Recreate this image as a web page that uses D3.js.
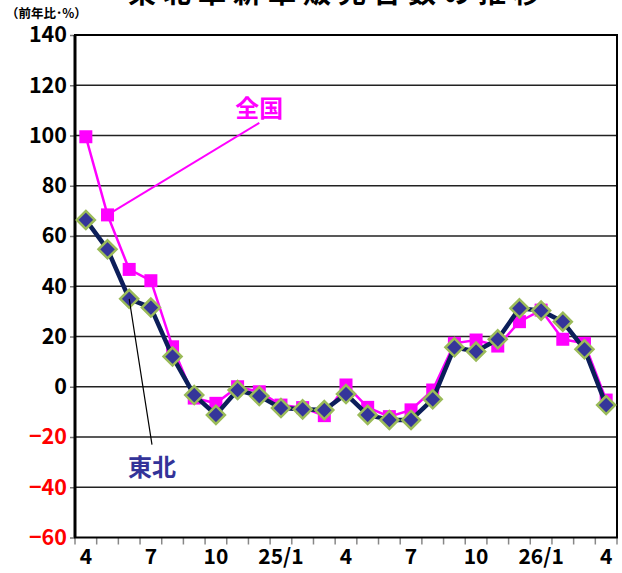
<!DOCTYPE html>
<html>
<head>
<meta charset="utf-8">
<script src="https://cdn.jsdelivr.net/npm/d3@7"></script>
<style>
  body { margin: 0; background: #fff; }
  svg { display: block; font-family: "Noto Sans CJK JP", "Noto Sans", sans-serif; }
</style>
</head>
<body>
<svg id="chart" width="622" height="573"></svg>
<script>
// months 24/4 .. 26/4, only every third one is labelled
const monthLabels = ['4', '', '', '7', '', '', '10', '', '', '25/1', '', '',
  '4', '', '', '7', '', '', '10', '', '', '26/1', '', '', '4'];

// 前年比 (%)
const zenkoku = [99.5, 68.4, 46.7, 42.2, 15.9, -4.5, -6.6, 0, -2, -7.3, -8.3, -11.5,
  0.7, -8.2, -11.9, -9.2, -1.3, 17.3, 18.6, 16.2, 25.9, 30.5, 18.9, 17.3, -5.3];
const tohoku = [66.4, 54.7, 35.0, 31.5, 12.0, -3.3, -11.2, -1.3, -3.7, -8.5, -9, -9.3,
  -2.9, -11.2, -13.2, -13.2, -5, 15.7, 14, 18.9, 31.2, 30.3, 25.9, 14.9, -7.3];

const yTicks = [-60, -40, -20, 0, 20, 40, 60, 80, 100, 120, 140];

const svg = d3.select('#chart');
const margin = { left: 75, right: 5, top: 35, bottom: 35.5 };
const W = 622, H = 573;

const x = d3.scaleBand()
  .domain(d3.range(monthLabels.length))
  .range([margin.left, W - margin.right]);
const y = d3.scaleLinear()
  .domain([-60, 140])
  .range([H - margin.bottom, margin.top]);
const cx = i => x(i) + x.bandwidth() / 2;
// continuous month position, used for the label anchors
const xi = d3.scaleLinear().domain([0, monthLabels.length - 1])
  .range([cx(0), cx(monthLabels.length - 1)]);

// title, mostly cut off at the top
svg.append('text')
  .attr('x', 338).attr('y', 3)
  .attr('text-anchor', 'middle')
  .attr('font-size', 28).attr('font-weight', 'bold')
  .attr('letter-spacing', 7)
  .text('東北車新車販売台数の推移');

svg.append('text')
  .attr('x', 6).attr('y', 18)
  .attr('font-size', 12.5).attr('font-weight', 'bold')
  .text('（前年比･%）');

// gridlines
svg.append('g')
  .selectAll('line')
  .data(yTicks.filter(d => d > -60 && d < 140))
  .join('line')
  .attr('x1', margin.left).attr('x2', W - margin.right)
  .attr('y1', d => y(d)).attr('y2', d => y(d))
  .attr('stroke', '#222').attr('stroke-width', 1.4);

// y axis
const yAxis = svg.append('g')
  .attr('transform', `translate(${margin.left},0)`)
  .call(d3.axisLeft(y).tickValues(yTicks).tickSize(5).tickPadding(3));
yAxis.select('.domain').remove();
yAxis.selectAll('.tick line').attr('stroke', '#777').attr('stroke-width', 1.5);
yAxis.selectAll('.tick text')
  .attr('font-family', '"Noto Sans CJK JP", sans-serif')
  .attr('font-size', 21.5).attr('font-weight', 'bold')
  .attr('fill', d => d < 0 ? '#ff0000' : '#000')
  .text(d => d < 0 ? '−' + Math.abs(d) : d);

// x axis ticks at band boundaries
const xAxis = svg.append('g')
  .attr('transform', `translate(0,${y(-60)})`);
xAxis.selectAll('line')
  .data(d3.range(monthLabels.length + 1))
  .join('line')
  .attr('x1', i => margin.left + i * x.step())
  .attr('x2', i => margin.left + i * x.step())
  .attr('y1', 0).attr('y2', 7)
  .attr('stroke', '#888').attr('stroke-width', 1.5);
xAxis.selectAll('text')
  .data(monthLabels.map((t, i) => ({ t, i })).filter(d => d.t))
  .join('text')
  .attr('x', d => cx(d.i))
  .attr('y', 26)
  .attr('text-anchor', 'middle')
  .attr('font-size', 21).attr('font-weight', 'bold')
  .text(d => d.t);

// frame
svg.append('rect')
  .attr('x', margin.left).attr('y', margin.top)
  .attr('width', W - margin.right - margin.left)
  .attr('height', y(-60) - margin.top)
  .attr('fill', 'none').attr('stroke', '#000').attr('stroke-width', 2);
svg.append('line')
  .attr('x1', margin.left).attr('x2', margin.left)
  .attr('y1', margin.top).attr('y2', y(-60))
  .attr('stroke', '#000').attr('stroke-width', 3);

// 全国
const line = d3.line().x((d, i) => cx(i)).y(d => y(d));
svg.append('path')
  .datum(zenkoku)
  .attr('d', line)
  .attr('fill', 'none').attr('stroke', '#ff00ff').attr('stroke-width', 2.5);
svg.append('g')
  .selectAll('rect')
  .data(zenkoku)
  .join('rect')
  .attr('x', (d, i) => cx(i) - 6.5).attr('y', d => y(d) - 6.5)
  .attr('width', 13).attr('height', 13)
  .attr('fill', '#ff00ff');

// 東北
svg.append('path')
  .datum(tohoku)
  .attr('d', line)
  .attr('fill', 'none').attr('stroke', '#0c1e5a').attr('stroke-width', 4.5)
  .attr('stroke-linejoin', 'round');
svg.append('g')
  .selectAll('path')
  .data(tohoku)
  .join('path')
  .attr('d', (d, i) => {
    const px = cx(i), py = y(d), r = 9;
    return `M${px},${py - r}L${px + r},${py}L${px},${py + r}L${px - r},${py}Z`;
  })
  .attr('fill', '#35359a').attr('stroke', '#9bbb59').attr('stroke-width', 2.5);

// labels with leader lines (data coordinates)
svg.append('line')
  .attr('x1', xi(1)).attr('y1', y(zenkoku[1]))
  .attr('x2', xi(8)).attr('y2', y(105))
  .attr('stroke', '#ff00ff').attr('stroke-width', 2);
svg.append('text')
  .attr('x', xi(8)).attr('y', y(107.5))
  .attr('text-anchor', 'middle')
  .attr('font-size', 24).attr('font-weight', 'bold')
  .attr('fill', '#ff00ff')
  .text('全国');

svg.append('line')
  .attr('x1', xi(2)).attr('y1', y(tohoku[2]))
  .attr('x2', xi(3.05)).attr('y2', y(-23))
  .attr('stroke', '#000').attr('stroke-width', 1.2);
svg.append('text')
  .attr('x', xi(3.05)).attr('y', y(-35.5))
  .attr('text-anchor', 'middle')
  .attr('font-size', 24).attr('font-weight', 'bold')
  .attr('fill', '#333399')
  .text('東北');
</script>
</body>
</html>
